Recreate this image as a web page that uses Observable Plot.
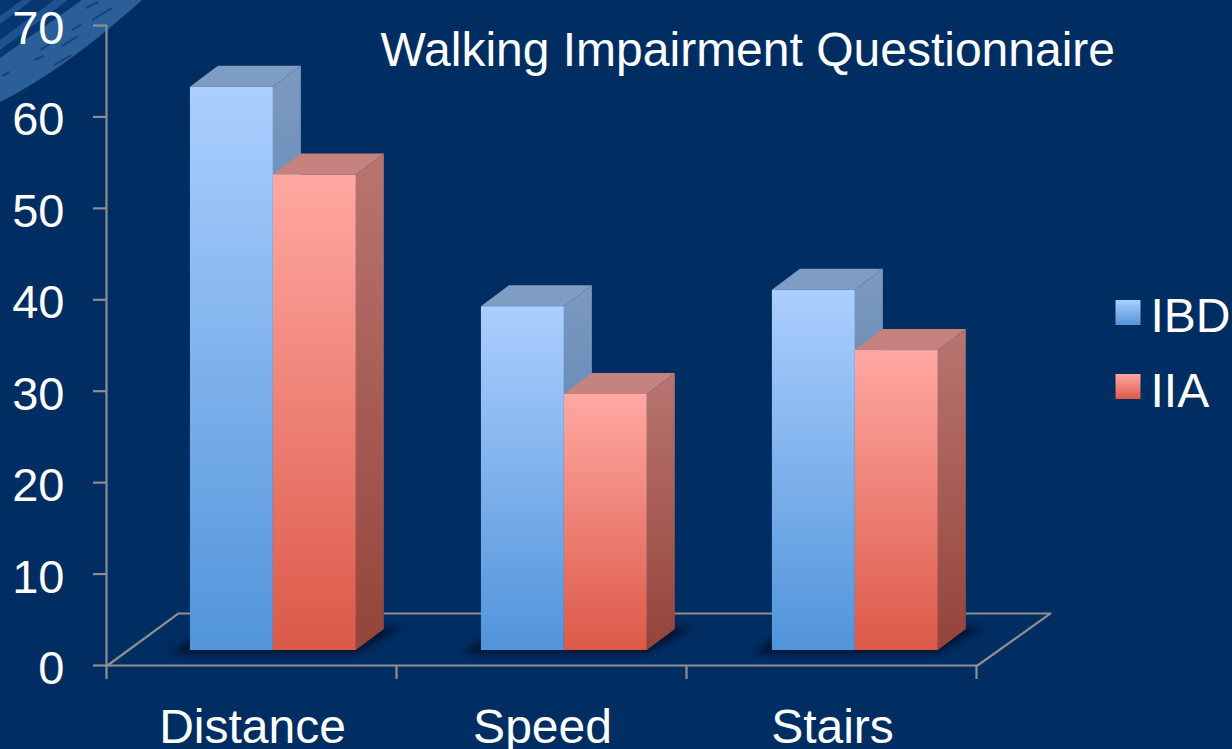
<!DOCTYPE html>
<html>
<head>
<meta charset="utf-8">
<script src="https://cdn.jsdelivr.net/npm/d3@7"></script>
<script src="https://cdn.jsdelivr.net/npm/@observablehq/plot@0.6"></script>
<style>
html,body{margin:0;padding:0;background:#002d62;overflow:hidden}
svg{display:block;background:transparent}
</style>
</head>
<body>
<div id="chart"></div>
<script>
const title = "Walking Impairment Questionnaire";
const categories = ["Distance", "Speed", "Stairs"];
const ibd = [61.6, 37.6, 39.4];
const iia = [52, 28, 32.8];
const yTicks = [0, 10, 20, 30, 40, 50, 60, 70];
const xTicks = [0, 1, 2, 3];
const seriesNames = ["IBD", "IIA"];

// 3D geometry, in scale units
const barStart = 0.286, barStep = 1.0034, barWidth = 0.286;
const depthX = 0.0966, depthY = 2.3;
const floorX = 0.245, floorY = 5.69;
const lift = -15;
const tickX = 0.0483, tickY = 1.53;

const idx = categories.map((_, i) => i);
const left = i => i * barStep + barStart;
const mid = i => left(i) + barWidth;
const right = i => left(i) + 2 * barWidth;

const fronts = (vals, l) => idx.map(i => ({x1: l(i), x2: l(i) + barWidth, v: vals[i]}));
const sides = (vals, l) => idx.flatMap(i => [
  {k: i, x: l(i) + barWidth, lo: 0, hi: vals[i]},
  {k: i, x: l(i) + barWidth + depthX, lo: depthY, hi: vals[i] + depthY}
]);
const tops = (vals, l) => idx.flatMap(i => [
  {k: i, y: vals[i], x1: l(i), x2: l(i) + barWidth},
  {k: i, y: vals[i] + depthY, x1: l(i) + depthX, x2: l(i) + barWidth + depthX}
]);
const shadow = idx.flatMap(i => [
  {k: i, y: -0.45, x1: left(i) - 0.065, x2: right(i)},
  {k: i, y: 2.5, x1: left(i) + 0.05, x2: right(i) + 0.16}
]);
const floor = [
  {x: 0, y: 0}, {x: floorX, y: floorY}, {x: 3 + floorX + 0.007, y: floorY}, {x: 3, y: 0}
];

function grad(id, c0, c1) {
  return `<linearGradient id="${id}" x1="0" y1="0" x2="0" y2="1"><stop offset="0" stop-color="${c0}"/><stop offset="1" stop-color="${c1}"/></linearGradient>`;
}
const defs = () => {
  const g = document.createElementNS("http://www.w3.org/2000/svg", "g");
  g.innerHTML = `<defs>
    ${grad("ibdF", "#abcffe", "#5194da")}
    ${grad("iiaF", "#ffa8a2", "#dc5948")}
    ${grad("ibdS", "#7c99c0", "#4474a8")}
    ${grad("iiaS", "#b87570", "#94443a")}
    ${grad("ibdL", "#abcffe", "#5194da")}
    ${grad("iiaL", "#ffa8a2", "#dc5948")}
  </defs>`;
  return g;
};
// Corner decoration of the slide template
const corner = () => {
  const g = document.createElementNS("http://www.w3.org/2000/svg", "g");
  g.innerHTML = `
    <path d="M0,0 L142,0 C112,28 60,72 0,102 Z" fill="#0d4079" opacity="0.55"/>
    <path d="M0,58 L82,0 L142,0 C110,28 60,72 0,102 Z" fill="#2a5f97"/>
    <path d="M0,40 L54,0 L68,0 L0,50 Z" fill="#1c5390"/>
    <path d="M0,16 L22,0 L32,0 L0,24 Z" fill="#1c5390"/>
    <g stroke="#114480" stroke-width="2" fill="none">
      <path d="M86,8 L98,2"/><path d="M62,46 L78,36"/><path d="M92,20 L112,8"/>
      <path d="M34,60 L44,56"/><path d="M54,65 L72,55"/><path d="M2,76 L10,72"/>
      <path d="M40,50 L50,44"/><path d="M72,30 L82,24"/>
    </g>`;
  return g;
};

const gray = "#8f8f8f";
const font = 48;
const yFont = 47;
const lineW = 2.2;

const plot = Plot.plot({
  width: 1232,
  height: 749,
  marginLeft: 107,
  marginRight: 255,
  marginTop: 25,
  marginBottom: 84,
  style: {fontFamily: "'Liberation Sans', Arial, sans-serif", background: "transparent", color: "white"},
  x: {domain: [0, 3]},
  y: {domain: [0, 70]},
  marks: [
    defs,
    corner,
    Plot.line(floor, {x: "x", y: "y", stroke: gray, strokeWidth: lineW}),
    Plot.ruleY([0], {x1: 0, x2: 3, stroke: gray, strokeWidth: lineW}),
    Plot.ruleX([0], {y1: 0, y2: 70, stroke: gray, strokeWidth: lineW, dx: -1}),
    Plot.ruleY(yTicks, {x1: -tickX, x2: 0, stroke: gray, strokeWidth: lineW}),
    Plot.ruleX(xTicks, {y1: -tickY, y2: 0, stroke: gray, strokeWidth: lineW, dx: -1}),
    Plot.axisY({ticks: yTicks, tickSize: 0, tickPadding: 43, fontSize: yFont, fill: "white", label: null, dy: 3.5}),
    Plot.axisX({ticks: idx.map(i => i + 0.5), tickSize: 0, tickPadding: 43, tickFormat: d => categories[Math.floor(d)], fontSize: font, fill: "white", label: null}),
    Plot.areaX(shadow, {y: "y", x1: "x1", x2: "x2", z: "k", fill: "#001637", dy: lift, imageFilter: "blur(3px)"}),

    Plot.areaY(sides(ibd, left), {x: "x", y1: "lo", y2: "hi", z: "k", fill: "url(#ibdS)", dy: lift}),
    Plot.areaX(tops(ibd, left), {y: "y", x1: "x1", x2: "x2", z: "k", fill: "#7f9cc4", dy: lift}),
    Plot.rect(fronts(ibd, left), {x1: "x1", x2: "x2", y1: 0, y2: "v", fill: "url(#ibdF)", dy: lift}),

    Plot.areaY(sides(iia, mid), {x: "x", y1: "lo", y2: "hi", z: "k", fill: "url(#iiaS)", dy: lift}),
    Plot.areaX(tops(iia, mid), {y: "y", x1: "x1", x2: "x2", z: "k", fill: "#c6827e", dy: lift}),
    Plot.rect(fronts(iia, mid), {x1: "x1", x2: "x2", y1: 0, y2: "v", fill: "url(#iiaF)", dy: lift}),

    Plot.text([title], {frameAnchor: "top-left", textAnchor: "start", lineAnchor: "middle", dx: 273, dy: 25, fontSize: font, fill: "white"}),

    Plot.dot([seriesNames[0]], {frameAnchor: "top-left", dx: 1020.5, dy: 287, symbol: "square", r: 14.1, fill: "url(#ibdL)"}),
    Plot.dot([seriesNames[1]], {frameAnchor: "top-left", dx: 1020.5, dy: 361, symbol: "square", r: 14.1, fill: "url(#iiaL)"}),
    Plot.text([seriesNames[0]], {frameAnchor: "top-left", textAnchor: "start", lineAnchor: "middle", dx: 1043, dy: 291.5, fontSize: font, fill: "white"}),
    Plot.text([seriesNames[1]], {frameAnchor: "top-left", textAnchor: "start", lineAnchor: "middle", dx: 1043, dy: 366, fontSize: font, fill: "white"})
  ]
});
document.getElementById("chart").append(plot);
</script>
</body>
</html>
